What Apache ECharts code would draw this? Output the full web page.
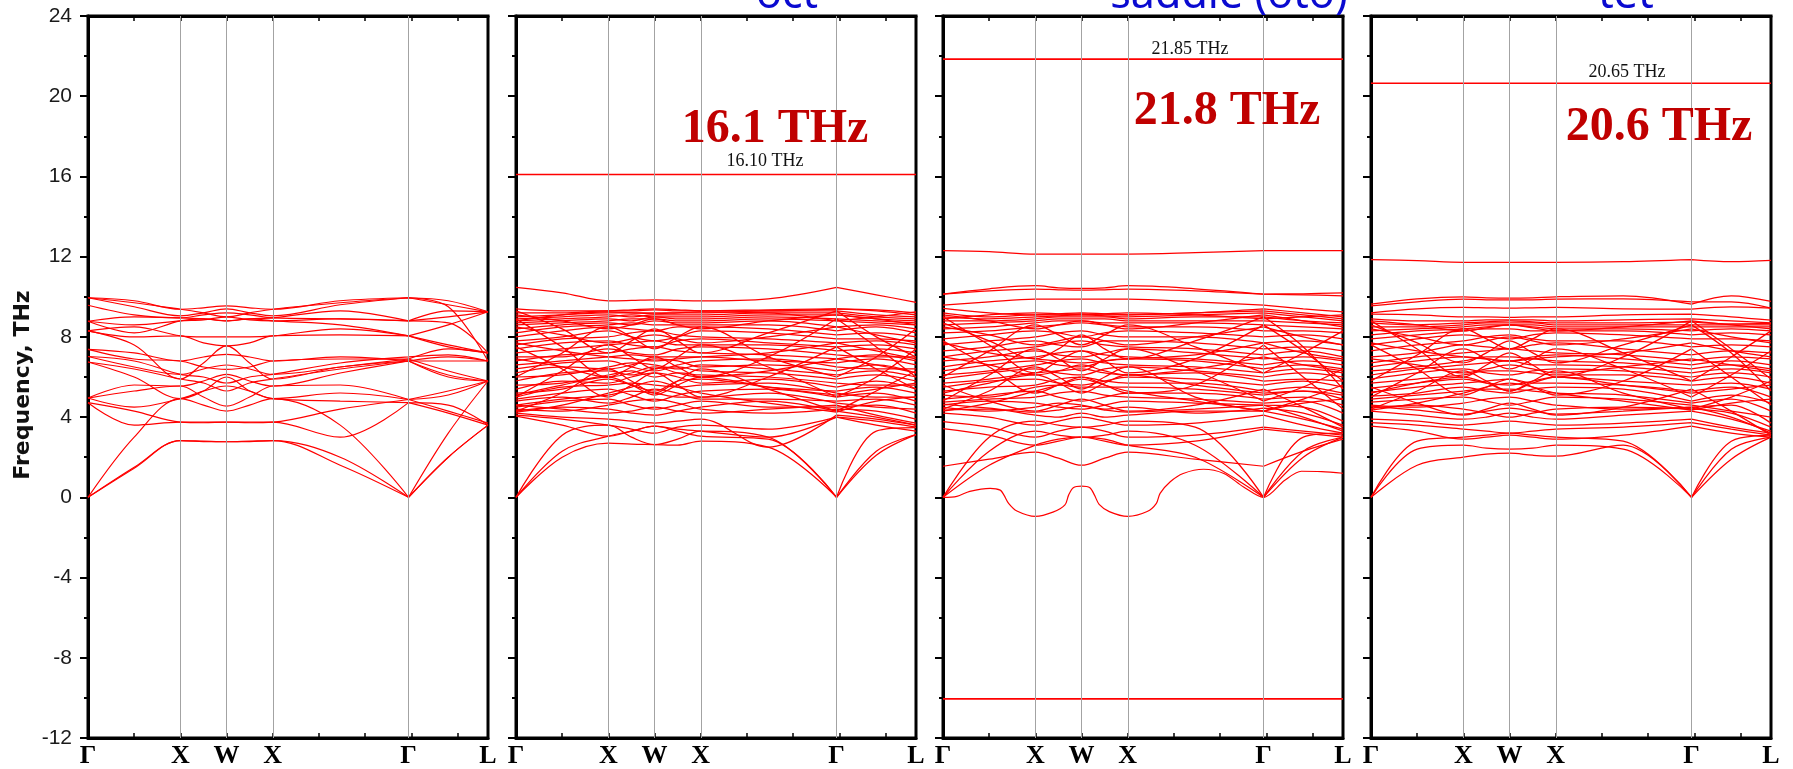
<!DOCTYPE html>
<html><head><meta charset="utf-8">
<script src="https://cdn.jsdelivr.net/npm/echarts@6/dist/echarts.min.js"></script>
<style>html,body{margin:0;padding:0;background:#fff;overflow:hidden}#c{width:1793px;height:769px}</style>
</head><body><div id="c"></div><script>
// ---- k-path (high-symmetry points) ----
const kTicks = [0, 1, 1.5, 2, 3.47, 4.33];
const kLabels = ['Γ', 'X', 'W', 'X', 'Γ', 'L'];
// k positions at which each band is sampled
const kPath = [0, 0.5, 1, 1.25, 1.5, 1.75, 2, 2.73, 3.47, 3.9, 4.33];
const freqMin = -12, freqMax = 24, freqStep = 4;
const panelTitles = ['', 'oct', 'saddle (oto)', 'tet'];
const peakLabels = ['', '16.1 THz', '21.8 THz', '20.6 THz'];
const lineLabels = ['', '16.10 THz', '21.85 THz', '20.65 THz'];

// ---- panel 1 (fcc reference) ----
const bandsFcc = [
 [0, 1.45, 2.83, 2.78, 2.77, 2.78, 2.83, 1.6, 0, 2.0, 3.6],
 [0, 1.5, 2.83, 2.8, 2.77, 2.8, 2.83, 2.0, 0, 2.0, 3.6],
 [0, 3.0, 4.92, 4.6, 4.3, 4.6, 4.92, 3.6, 0, 3.2, 5.8],
 [4.72, 3.6, 3.75, 3.75, 3.75, 3.75, 3.75, 3.0, 4.72, 4.2, 3.6],
 [4.72, 4.3, 3.75, 3.72, 3.75, 3.72, 3.75, 4.4, 4.88, 4.3, 3.7],
 [4.95, 4.5, 4.92, 5.3, 5.55, 5.3, 4.92, 5.2, 4.88, 5.3, 5.8],
 [4.95, 5.3, 5.55, 5.0, 4.55, 5.0, 5.55, 5.6, 4.88, 5.1, 5.8],
 [4.95, 5.6, 5.55, 5.8, 6.13, 5.8, 5.55, 6.2, 6.8, 6.1, 5.8],
 [6.75, 6.0, 4.92, 5.3, 6.0, 5.3, 4.92, 4.8, 4.72, 4.6, 3.6],
 [6.75, 6.4, 5.9, 5.7, 5.3, 5.7, 5.9, 6.4, 6.8, 6.0, 5.8],
 [7.02, 6.5, 6.13, 6.4, 6.6, 6.4, 6.13, 6.5, 6.9, 6.3, 5.8],
 [7.02, 6.8, 6.13, 6.0, 5.7, 6.0, 6.13, 6.7, 7.0, 7.1, 6.8],
 [7.38, 6.9, 6.8, 6.5, 6.38, 6.5, 6.8, 6.9, 6.9, 7.4, 7.2],
 [7.38, 7.2, 6.8, 7.0, 7.13, 7.0, 6.8, 7.0, 6.8, 7.0, 6.8],
 [8.3, 7.6, 5.9, 6.7, 7.55, 6.7, 5.9, 6.5, 6.8, 6.8, 6.8],
 [8.3, 8.0, 8.05, 7.7, 7.55, 7.7, 8.05, 8.1, 8.05, 7.5, 7.2],
 [8.3, 8.5, 8.05, 8.0, 8.0, 8.0, 8.05, 8.4, 8.05, 7.6, 7.2],
 [8.78, 8.2, 8.8, 8.9, 8.8, 8.9, 8.8, 8.6, 8.05, 8.6, 9.25],
 [8.78, 8.6, 8.8, 8.85, 9.0, 8.85, 8.8, 8.9, 8.8, 9.0, 9.25],
 [8.78, 9.0, 8.95, 8.9, 8.8, 8.9, 8.95, 9.3, 8.8, 8.7, 7.2],
 [9.58, 9.1, 8.95, 9.1, 9.2, 9.1, 8.95, 8.9, 8.8, 9.3, 9.25],
 [9.95, 9.5, 9.05, 9.2, 9.4, 9.2, 9.05, 9.6, 9.95, 9.6, 9.25],
 [9.95, 9.7, 9.38, 9.2, 9.0, 9.2, 9.38, 9.7, 9.95, 9.8, 9.25],
 [9.95, 9.8, 9.38, 9.45, 9.55, 9.45, 9.38, 9.8, 9.95, 9.5, 6.8]
];

// ---- panel 2 (oct) ----
const bandsOct = [
 [0, 2.0, 2.7, 2.65, 2.63, 2.6, 2.8, 2.5, 0, 2.1, 3.13],
 [0, 2.3, 3.05, 3.3, 3.55, 3.3, 3.05, 2.9, 0, 2.3, 3.13],
 [0, 3.1, 3.6, 3.0, 2.63, 2.9, 3.3, 3.0, 0, 3.3, 3.47],
 [4.05, 3.6, 3.05, 3.3, 3.55, 3.4, 3.3, 3.0, 4.0, 3.6, 3.3],
 [4.1, 3.9, 3.6, 3.4, 3.2, 3.5, 3.6, 3.4, 4.0, 3.8, 3.5],
 [4.2, 4.0, 3.9, 3.8, 3.7, 3.8, 3.9, 2.5, 4.1, 3.9, 3.6],
 [4.3, 4.5, 4.4, 4.2, 4.1, 4.3, 4.5, 4.8, 4.3, 4.0, 3.6],
 [4.4, 4.3, 4.6, 4.8, 4.9, 4.7, 4.4, 4.2, 4.4, 4.3, 3.9],
 [4.5, 4.8, 4.9, 4.6, 4.4, 4.6, 4.8, 4.5, 4.5, 4.6, 4.2],
 [4.6, 4.9, 5.1, 5.3, 5.2, 5.0, 5.0, 5.2, 4.7, 4.5, 4.4],
 [4.8, 5.0, 4.7, 5.0, 5.4, 5.2, 4.9, 4.9, 4.8, 4.9, 4.6],
 [4.9, 5.2, 5.4, 5.1, 4.8, 5.1, 5.3, 5.4, 5.0, 5.2, 4.8],
 [5.0, 5.5, 5.6, 5.7, 5.6, 5.5, 5.6, 5.7, 5.2, 5.0, 5.0],
 [5.2, 5.4, 5.9, 5.6, 5.3, 5.8, 5.9, 5.5, 5.3, 5.5, 5.2],
 [5.4, 5.8, 5.7, 6.0, 6.2, 6.0, 5.7, 5.9, 5.5, 5.8, 5.4],
 [5.6, 5.7, 6.1, 6.3, 6.0, 6.2, 6.1, 6.0, 5.7, 5.6, 5.6],
 [5.8, 6.2, 6.3, 6.1, 6.4, 6.5, 6.3, 6.2, 5.9, 6.1, 5.8],
 [6.0, 6.1, 6.5, 6.7, 6.6, 6.4, 6.6, 6.4, 6.1, 6.3, 6.0],
 [6.2, 6.5, 6.4, 6.6, 6.9, 6.8, 6.5, 6.6, 6.3, 6.6, 6.2],
 [6.4, 6.7, 6.8, 6.5, 6.3, 6.6, 6.8, 6.9, 6.5, 6.4, 6.4],
 [6.6, 6.8, 7.0, 7.1, 7.0, 7.0, 7.0, 6.8, 6.7, 6.9, 6.6],
 [6.8, 7.1, 7.2, 7.4, 7.5, 7.3, 7.2, 7.1, 6.9, 7.1, 6.8],
 [7.0, 7.0, 7.4, 7.2, 7.1, 7.4, 7.5, 7.4, 7.1, 7.0, 7.0],
 [7.2, 7.4, 7.6, 7.7, 7.8, 7.6, 7.6, 7.6, 7.3, 7.4, 7.2],
 [7.4, 7.7, 7.8, 7.6, 7.5, 7.8, 7.9, 7.7, 7.5, 7.6, 7.4],
 [7.6, 7.9, 8.0, 8.2, 8.3, 8.1, 8.0, 7.9, 7.7, 7.8, 7.6],
 [7.8, 8.0, 8.3, 8.0, 7.8, 8.0, 8.3, 8.2, 7.9, 7.9, 7.8],
 [8.0, 8.3, 8.5, 8.4, 8.3, 8.5, 8.5, 8.4, 8.1, 8.2, 8.0],
 [8.2, 8.5, 8.6, 8.7, 8.6, 8.6, 8.6, 8.6, 8.3, 8.5, 8.2],
 [8.4, 8.6, 8.7, 8.6, 8.8, 8.7, 8.7, 8.8, 8.5, 8.6, 8.4],
 [8.6, 8.7, 8.8, 8.9, 8.9, 8.8, 8.8, 8.9, 8.8, 8.7, 8.6],
 [8.7, 8.8, 8.9, 8.8, 9.0, 8.9, 8.9, 9.0, 8.9, 8.8, 8.7],
 [8.8, 8.9, 9.0, 9.1, 9.0, 9.0, 9.0, 9.1, 9.1, 8.9, 8.8],
 [8.9, 9.0, 9.1, 9.0, 9.1, 9.1, 9.1, 9.2, 9.2, 9.0, 8.9],
 [9.0, 9.1, 9.2, 9.2, 9.2, 9.2, 9.2, 9.3, 9.3, 9.1, 9.0],
 [9.2, 9.2, 9.3, 9.3, 9.35, 9.3, 9.3, 9.3, 9.4, 9.3, 9.1],
 [9.4, 9.3, 9.3, 9.35, 9.4, 9.35, 9.3, 9.35, 9.4, 9.35, 9.2],
 [8.9, 7.5, 6.0, 6.5, 7.0, 6.5, 6.0, 7.0, 8.9, 7.5, 6.0],
 [5.0, 6.3, 7.6, 7.0, 6.4, 7.0, 7.6, 6.5, 5.0, 6.0, 7.4],
 [7.5, 6.4, 5.0, 5.6, 6.2, 5.6, 5.0, 6.0, 7.5, 6.4, 5.4],
 [6.0, 7.2, 8.5, 8.0, 7.4, 8.0, 8.5, 7.0, 6.0, 7.0, 8.4],
 [9.3, 8.4, 7.2, 7.8, 8.4, 7.8, 7.2, 8.2, 9.3, 8.0, 7.0],
 [4.3, 5.2, 6.4, 5.8, 5.2, 5.8, 6.4, 5.4, 4.3, 5.3, 6.3],
 [4.25, 4.6, 5.2, 5.5, 5.8, 5.5, 5.2, 4.7, 4.25, 4.8, 5.0],
 [5.1, 5.6, 6.0, 5.6, 5.1, 5.6, 6.0, 5.5, 5.1, 5.4, 5.7],
 [6.9, 6.5, 6.0, 6.2, 6.5, 6.2, 6.0, 6.3, 6.9, 6.6, 6.2],
 [8.5, 8.1, 7.7, 7.9, 8.1, 7.9, 7.7, 8.0, 8.5, 8.1, 7.7],
 [9.1, 8.8, 8.4, 8.6, 8.9, 8.6, 8.4, 8.8, 9.1, 8.9, 8.6],
 [8.8, 9.1, 9.25, 9.2, 9.15, 9.2, 9.25, 9.2, 8.8, 9.0, 9.25],
 [7.7, 7.3, 7.0, 6.9, 6.8, 6.9, 7.0, 7.2, 7.7, 7.3, 6.9],
 [4.6, 4.4, 4.2, 4.3, 4.5, 4.3, 4.2, 4.4, 4.6, 4.1, 3.7],
 [10.47, 10.2, 9.8, 9.82, 9.85, 9.82, 9.8, 9.9, 10.47, 10.1, 9.72]
];

// ---- panel 3 (saddle, oto) ----
const bandsSaddle = [
 [12.3, 12.25, 12.13, 12.13, 12.13, 12.13, 12.13, 12.2, 12.3, 12.3, 12.3],
 [10.13, 10.4, 10.55, 10.45, 10.42, 10.45, 10.55, 10.4, 10.13, 10.15, 10.2],
 [10.13, 10.3, 10.38, 10.35, 10.33, 10.35, 10.38, 10.3, 10.13, 10.1, 10.05],
 [9.58, 9.75, 9.88, 9.88, 9.88, 9.88, 9.88, 9.75, 9.58, 9.4, 9.25],
 [0, 1.6, 2.6, 2.9, 3.0, 2.9, 2.6, 2.0, 0, 2.0, 3.0],
 [0, 2.3, 3.3, 3.1, 3.0, 3.1, 3.3, 2.6, 0, 2.3, 3.0],
 [0, 3.0, 3.8, 3.6, 3.5, 3.6, 3.8, 3.5, 0, 3.0, 3.2],
 [1.55, 1.9, 2.25, 1.95, 1.6, 1.95, 2.25, 1.9, 1.55, 2.3, 2.9],
 [3.42, 3.1, 2.6, 2.8, 3.0, 2.8, 2.6, 2.8, 3.4, 3.2, 3.0],
 [3.78, 3.5, 3.0, 3.3, 3.5, 3.3, 3.0, 3.1, 3.5, 3.3, 3.1],
 [4.2, 4.0, 3.6, 3.8, 4.0, 3.8, 3.6, 3.7, 4.1, 3.6, 3.2],
 [4.35, 4.4, 4.1, 4.0, 4.2, 4.0, 4.1, 4.3, 4.3, 3.9, 3.4],
 [4.5, 4.3, 4.5, 4.7, 4.6, 4.4, 4.5, 4.2, 4.45, 4.2, 3.6],
 [4.6, 4.8, 4.7, 4.5, 4.4, 4.6, 4.8, 4.7, 4.6, 4.5, 3.8],
 [4.75, 4.9, 5.0, 5.2, 5.3, 5.1, 5.0, 4.9, 4.7, 4.8, 4.2],
 [4.9, 5.1, 5.3, 5.0, 4.8, 5.0, 5.2, 5.2, 4.9, 5.0, 4.6],
 [5.1, 5.0, 5.5, 5.6, 5.5, 5.5, 5.5, 5.4, 5.1, 5.3, 4.9],
 [5.3, 5.5, 5.6, 5.9, 6.0, 5.8, 5.7, 5.7, 5.3, 5.5, 5.2],
 [5.5, 5.8, 5.9, 5.7, 5.6, 5.8, 6.0, 5.9, 5.6, 5.8, 5.5],
 [5.7, 5.9, 6.2, 6.3, 6.4, 6.2, 6.1, 6.2, 5.8, 5.9, 5.8],
 [5.9, 6.2, 6.4, 6.2, 6.1, 6.4, 6.5, 6.3, 6.0, 6.2, 6.0],
 [6.1, 6.3, 6.6, 6.8, 6.9, 6.7, 6.6, 6.5, 6.2, 6.4, 6.2],
 [6.3, 6.6, 6.8, 6.6, 6.5, 6.8, 6.9, 6.8, 6.4, 6.6, 6.4],
 [6.5, 6.8, 7.0, 7.2, 7.3, 7.1, 7.0, 6.9, 6.6, 6.8, 6.6],
 [6.8, 7.0, 7.3, 7.1, 7.0, 7.2, 7.4, 7.2, 6.9, 7.0, 6.8],
 [7.0, 7.3, 7.5, 7.7, 7.8, 7.6, 7.5, 7.4, 7.1, 7.3, 7.0],
 [7.3, 7.5, 7.8, 7.6, 7.5, 7.8, 7.8, 7.7, 7.4, 7.5, 7.3],
 [7.6, 7.8, 8.0, 8.2, 8.3, 8.1, 8.0, 8.0, 7.7, 7.8, 7.6],
 [7.9, 8.1, 8.3, 8.2, 8.0, 8.2, 8.3, 8.2, 8.0, 8.1, 7.9],
 [8.2, 8.3, 8.5, 8.6, 8.7, 8.6, 8.5, 8.5, 8.3, 8.3, 8.2],
 [8.4, 8.5, 8.7, 8.8, 8.8, 8.7, 8.7, 8.7, 8.6, 8.5, 8.4],
 [8.6, 8.7, 8.8, 8.9, 8.9, 8.9, 8.8, 8.8, 8.8, 8.7, 8.6],
 [8.8, 8.8, 8.9, 9.0, 9.0, 9.0, 8.9, 9.0, 9.0, 8.8, 8.7],
 [9.0, 8.9, 9.0, 9.05, 9.1, 9.05, 9.0, 9.1, 9.2, 9.0, 8.8],
 [9.2, 9.0, 9.1, 9.1, 9.15, 9.1, 9.1, 9.2, 9.3, 9.1, 8.9],
 [9.42, 9.2, 9.1, 9.15, 9.2, 9.15, 9.1, 9.2, 9.4, 9.2, 9.0],
 [9.0, 7.6, 6.2, 6.8, 7.3, 6.8, 6.2, 6.9, 8.6, 7.3, 5.8],
 [4.8, 6.1, 7.4, 6.9, 6.3, 6.9, 7.4, 6.3, 4.8, 5.5, 6.4],
 [7.8, 6.5, 5.2, 5.6, 6.0, 5.6, 5.2, 5.6, 7.6, 6.0, 4.4],
 [6.0, 7.3, 8.6, 8.1, 7.6, 8.1, 8.6, 7.5, 6.2, 7.2, 8.3],
 [8.7, 7.8, 6.9, 7.4, 8.1, 7.4, 6.9, 7.8, 9.0, 7.5, 5.4],
 [4.4, 5.3, 6.5, 6.0, 5.4, 6.0, 6.5, 5.0, 4.3, 4.9, 5.6],
 [5.6, 4.8, 4.3, 4.6, 4.9, 4.6, 4.3, 4.6, 5.4, 4.5, 3.5],
 [4.3, 4.7, 5.3, 5.6, 5.9, 5.6, 5.3, 4.8, 4.3, 4.7, 4.9],
 [5.2, 5.7, 6.1, 5.7, 5.2, 5.7, 6.1, 5.6, 5.2, 5.3, 5.1],
 [7.0, 6.6, 6.1, 6.3, 6.6, 6.3, 6.1, 6.4, 7.0, 6.6, 6.3],
 [8.5, 8.1, 7.6, 7.8, 8.0, 7.8, 7.6, 8.0, 8.5, 8.0, 7.6],
 [9.1, 8.8, 8.4, 8.6, 8.8, 8.6, 8.4, 8.7, 9.1, 8.8, 8.5],
 [8.9, 9.1, 9.2, 9.15, 9.1, 9.15, 9.2, 9.1, 8.9, 9.0, 9.1],
 [7.7, 7.2, 6.9, 6.8, 6.7, 6.8, 6.9, 7.1, 7.7, 7.2, 6.9],
 [4.65, 4.45, 4.25, 4.35, 4.55, 4.35, 4.25, 4.4, 4.6, 4.0, 3.3]
];
// soft (partly imaginary) mode of the saddle structure
const softModeK = [0, 0.15, 0.29, 0.51, 0.62, 0.66, 0.71, 0.8, 1.0, 1.19, 1.32, 1.36, 1.41, 1.5, 1.59, 1.64, 1.69, 1.8, 2.0, 2.21, 2.31, 2.35, 2.46, 2.6, 2.82, 3.04, 3.25, 3.47, 3.7, 3.88, 4.1, 4.33];
const softModeV = [0, 0.05, 0.3, 0.45, 0.36, 0.11, -0.3, -0.68, -0.95, -0.74, -0.38, 0.11, 0.48, 0.56, 0.48, 0.11, -0.35, -0.71, -0.95, -0.71, -0.3, 0.2, 0.78, 1.19, 1.4, 1.19, 0.53, 0, 0.85, 1.3, 1.28, 1.2];

// ---- panel 4 (tet) ----
const bandsTet = [
 [11.85, 11.8, 11.72, 11.72, 11.72, 11.72, 11.72, 11.75, 11.85, 11.75, 11.82],
 [9.63, 9.9, 10.0, 9.95, 9.93, 9.95, 10.0, 10.05, 9.63, 10.05, 9.77],
 [9.55, 9.75, 9.88, 9.85, 9.85, 9.85, 9.88, 9.9, 9.75, 9.75, 9.43],
 [9.2, 9.4, 9.47, 9.45, 9.43, 9.45, 9.47, 9.4, 9.38, 9.5, 9.43],
 [9.13, 9.1, 9.0, 9.0, 8.97, 9.0, 9.0, 9.1, 9.13, 9.0, 8.83],
 [4.3, 4.1, 3.9, 4.0, 4.2, 4.0, 3.9, 4.1, 4.3, 3.9, 3.3],
 [4.45, 4.6, 4.4, 4.2, 4.0, 4.2, 4.4, 4.5, 4.4, 4.2, 3.5],
 [4.6, 4.5, 4.7, 4.9, 5.0, 4.8, 4.6, 4.4, 4.5, 4.6, 3.7],
 [4.75, 4.9, 5.0, 4.8, 4.6, 4.8, 5.0, 4.9, 4.6, 4.3, 4.0],
 [4.9, 5.1, 5.3, 5.4, 5.4, 5.3, 5.2, 5.1, 4.7, 4.9, 4.3],
 [5.05, 5.2, 5.5, 5.3, 5.2, 5.4, 5.5, 5.4, 4.8, 5.1, 4.7],
 [5.25, 5.5, 5.7, 5.8, 5.9, 5.7, 5.7, 5.6, 5.3, 5.5, 5.0],
 [5.45, 5.7, 5.9, 5.7, 5.6, 5.8, 6.0, 5.8, 5.6, 5.7, 5.4],
 [5.7, 5.9, 6.1, 6.3, 6.3, 6.2, 6.1, 6.1, 5.8, 6.0, 5.7],
 [5.9, 6.2, 6.4, 6.2, 6.1, 6.3, 6.4, 6.3, 6.0, 6.2, 6.0],
 [6.1, 6.4, 6.6, 6.7, 6.8, 6.6, 6.6, 6.5, 6.2, 6.4, 6.2],
 [6.3, 6.5, 6.8, 7.0, 7.0, 6.9, 6.8, 6.7, 6.4, 6.6, 6.4],
 [6.5, 6.8, 7.0, 6.9, 6.8, 7.0, 7.1, 6.9, 6.6, 6.8, 6.6],
 [6.7, 7.0, 7.2, 7.3, 7.4, 7.3, 7.2, 7.1, 6.8, 7.0, 6.9],
 [7.0, 7.2, 7.6, 7.5, 7.4, 7.6, 7.7, 7.4, 7.1, 7.3, 7.2],
 [7.3, 7.6, 7.8, 8.0, 8.1, 7.9, 7.8, 7.8, 7.5, 7.6, 7.5],
 [7.6, 7.9, 8.1, 8.0, 7.9, 8.1, 8.2, 8.1, 7.9, 7.9, 7.8],
 [7.9, 8.1, 8.3, 8.4, 8.4, 8.3, 8.3, 8.3, 8.1, 8.2, 8.1],
 [8.1, 8.3, 8.4, 8.5, 8.6, 8.5, 8.4, 8.4, 8.3, 8.4, 8.3],
 [8.3, 8.4, 8.5, 8.6, 8.6, 8.6, 8.5, 8.5, 8.5, 8.5, 8.5],
 [8.5, 8.5, 8.6, 8.7, 8.7, 8.7, 8.6, 8.6, 8.6, 8.6, 8.6],
 [8.7, 8.6, 8.7, 8.75, 8.8, 8.75, 8.7, 8.7, 8.75, 8.65, 8.67],
 [8.9, 8.8, 8.8, 8.85, 8.85, 8.85, 8.8, 8.85, 8.9, 8.8, 8.7],
 [8.8, 7.4, 6.0, 6.6, 7.2, 6.6, 6.0, 7.0, 8.8, 7.4, 5.9],
 [5.0, 6.2, 7.4, 6.9, 6.4, 6.9, 7.4, 6.4, 5.0, 6.1, 7.3],
 [7.6, 6.4, 5.1, 5.5, 5.9, 5.5, 5.1, 5.8, 7.4, 6.0, 4.6],
 [5.8, 7.1, 8.4, 7.9, 7.4, 7.9, 8.4, 7.2, 5.8, 7.0, 8.3],
 [8.6, 7.7, 6.7, 7.2, 7.8, 7.2, 6.7, 7.6, 8.6, 7.2, 5.3],
 [4.4, 5.3, 6.3, 5.8, 5.3, 5.8, 6.3, 5.2, 4.4, 5.0, 5.8],
 [5.5, 4.7, 4.1, 4.4, 4.7, 4.4, 4.1, 4.5, 5.4, 4.3, 3.1],
 [4.35, 4.7, 5.2, 5.5, 5.7, 5.5, 5.2, 4.8, 4.35, 4.7, 4.9],
 [5.2, 5.7, 6.0, 5.7, 5.3, 5.7, 6.0, 5.6, 5.2, 5.4, 5.6],
 [6.9, 6.6, 6.2, 6.4, 6.6, 6.4, 6.2, 6.5, 6.9, 6.6, 6.3],
 [8.4, 8.0, 7.6, 7.8, 8.0, 7.8, 7.6, 7.9, 8.4, 8.0, 7.7],
 [8.8, 8.6, 8.3, 8.45, 8.6, 8.45, 8.3, 8.5, 8.8, 8.6, 8.4],
 [7.7, 7.3, 7.0, 6.9, 6.8, 6.9, 7.0, 7.2, 7.7, 7.3, 7.0],
 [4.55, 4.35, 4.15, 4.3, 4.45, 4.3, 4.15, 4.3, 4.5, 4.0, 3.2],
 [3.9, 3.8, 3.6, 3.7, 3.8, 3.7, 3.6, 3.7, 3.9, 3.5, 3.2],
 [3.72, 3.6, 3.4, 3.3, 3.2, 3.3, 3.4, 3.5, 3.72, 3.4, 3.1],
 [3.55, 3.3, 2.9, 3.0, 3.1, 3.0, 2.9, 3.1, 3.55, 3.2, 3.0],
 [0, 1.6, 2.0, 2.15, 2.2, 2.1, 2.05, 2.6, 0, 1.9, 3.0],
 [0, 2.4, 2.6, 2.45, 2.4, 2.45, 2.6, 2.4, 0, 2.4, 3.0],
 [0, 2.8, 3.0, 3.1, 3.2, 3.1, 3.0, 2.8, 0, 2.8, 3.1]
];

// isolated flat modes (THz)
const flatFcc = [];
const flatOct = [16.10];
const flatSaddle = [21.85, -10.05];
const flatTet = [20.65];

// ---------------- chart ----------------
const panels = [
  {bands: bandsFcc, flats: flatFcc, lw: 1.15},
  {bands: bandsOct, flats: flatOct, lw: 1.25},
  {bands: bandsSaddle, flats: flatSaddle, lw: 1.25},
  {bands: bandsTet, flats: flatTet, lw: 1.25}
];
const gridLeft = [88, 516, 943, 1371];
const gridW = 400, gridTop = 16, gridH = 724;
const kMax = kTicks[kTicks.length - 1];
const gammaIdx = kPath.indexOf(kTicks[4]);
const RED = '#ff0000';

const grids = [], xAxes = [], yAxes = [], series = [], graphics = [];
function kName(v) {
  let best = 0;
  kTicks.forEach((t, i) => { if (Math.abs(t - v) < Math.abs(kTicks[best] - v)) best = i; });
  return kLabels[best];
}
// band -> points, broken at the interior Γ point so the acoustic branches keep their cusp
function bandPoints(b) {
  const pts = [];
  b.forEach((v, i) => {
    if (i === gammaIdx + 1) pts.push([kPath[gammaIdx], '-']);
    if (i === gammaIdx + 1) pts.push([kPath[gammaIdx], b[gammaIdx]]);
    pts.push([kPath[i], v]);
  });
  return pts;
}
panels.forEach((p, gi) => {
  grids.push({left: gridLeft[gi], top: gridTop, width: gridW, height: gridH,
    show: true, borderColor: '#000', borderWidth: 3, backgroundColor: 'transparent'});
  xAxes.push({type: 'value', gridIndex: gi, min: 0, max: kMax, interval: 0.5, position: 'bottom',
    axisLine: {show: true, onZero: false, lineStyle: {color: '#000', width: 3}},
    axisTick: {show: true, inside: true, length: 5, lineStyle: {color: '#000', width: 1.5}},
    axisLabel: {show: true, customValues: kTicks, formatter: kName, margin: 5,
      fontFamily: '"Liberation Serif", serif', fontWeight: 'bold', fontSize: 26, color: '#000'},
    splitLine: {show: false}});
  yAxes.push({type: 'value', gridIndex: gi, min: freqMin, max: freqMax, interval: freqStep,
    axisLine: {show: true, onZero: false, lineStyle: {color: '#000', width: 3}},
    axisTick: {show: true, inside: false, length: 8, lineStyle: {color: '#000', width: 2}},
    minorTick: {show: true, splitNumber: 2, length: 4, lineStyle: {color: '#000', width: 2}},
    axisLabel: {show: gi === 0, margin: 16, fontFamily: '"Liberation Sans", sans-serif', fontSize: 21, color: '#1a1a1a'},
    name: gi === 0 ? 'Frequency, THz' : '', nameLocation: 'middle', nameGap: 54, nameRotate: 90,
    nameTextStyle: {fontFamily: '"DejaVu Sans", sans-serif', fontWeight: 'bold', fontSize: 22, color: '#111', padding: [0, 16, 0, 0]},
    splitLine: {show: false}});
  // vertical lines at high-symmetry points
  series.push({type: 'line', xAxisIndex: gi, yAxisIndex: gi, data: [], silent: true, z: 1,
    markLine: {silent: true, symbol: 'none', label: {show: false}, animation: false,
      lineStyle: {color: '#a3a3a3', width: 1, type: 'solid'},
      data: kTicks.slice(1, kTicks.length - 1).map(k => ({xAxis: k}))}});
  p.bands.forEach(b => {
    series.push({type: 'line', xAxisIndex: gi, yAxisIndex: gi, smooth: 0.35, symbol: 'none', silent: true, z: 3,
      connectNulls: false, lineStyle: {color: RED, width: p.lw}, data: bandPoints(b)});
  });
  p.flats.forEach(f => {
    series.push({type: 'line', xAxisIndex: gi, yAxisIndex: gi, symbol: 'none', silent: true, z: 3,
      lineStyle: {color: RED, width: 1.6}, data: [[0, f], [kMax, f]]});
  });
});
// top axes (inner ticks on upper frame)
panels.forEach((p, gi) => {
  xAxes.push({type: 'value', gridIndex: gi, min: 0, max: kMax, interval: 0.5, position: 'top',
    axisLine: {show: true, onZero: false, lineStyle: {color: '#000', width: 3}},
    axisTick: {show: true, inside: true, length: 5, lineStyle: {color: '#000', width: 1.5}},
    axisLabel: {show: false}, splitLine: {show: false}});
});
// soft mode in the saddle panel
series.push({type: 'line', xAxisIndex: 2, yAxisIndex: 2, smooth: 0.3, symbol: 'none', silent: true, z: 3,
  lineStyle: {color: RED, width: 1.2}, data: softModeK.map((k, i) => [k, softModeV[i]])});

// text annotations
const titleX = [0, 787, 1229, 1626];
const peakX = [0, 775, 1227, 1659], peakY = [0, 130, 112, 128];
const lineX = [0, 765, 1190, 1627], lineY = [0, 161, 49, 72];
[1, 2, 3].forEach(i => {
  graphics.push({type: 'text', x: titleX[i], y: -4, silent: true, style: {text: panelTitles[i],
    fill: '#0a0ad0', font: '43px "Noto Sans", sans-serif', textAlign: 'center', textVerticalAlign: 'middle', align: 'center', verticalAlign: 'middle'}});
  graphics.push({type: 'text', x: peakX[i], y: peakY[i], silent: true, z: 10, style: {text: peakLabels[i],
    fill: '#c00000', font: 'bold 48px "Liberation Serif", serif', textAlign: 'center', textVerticalAlign: 'middle', align: 'center', verticalAlign: 'middle'}});
  graphics.push({type: 'text', x: lineX[i], y: lineY[i], silent: true, z: 10, style: {text: lineLabels[i],
    fill: '#111', font: '18px "Liberation Serif", serif', textAlign: 'center', textVerticalAlign: 'middle', align: 'center', verticalAlign: 'middle'}});
});

const chart = echarts.init(document.getElementById('c'), null, {renderer: 'canvas'});
chart.setOption({
  animation: false,
  backgroundColor: '#fff',
  grid: grids, xAxis: xAxes, yAxis: yAxes, series: series, graphic: graphics
});
</script></body></html>
